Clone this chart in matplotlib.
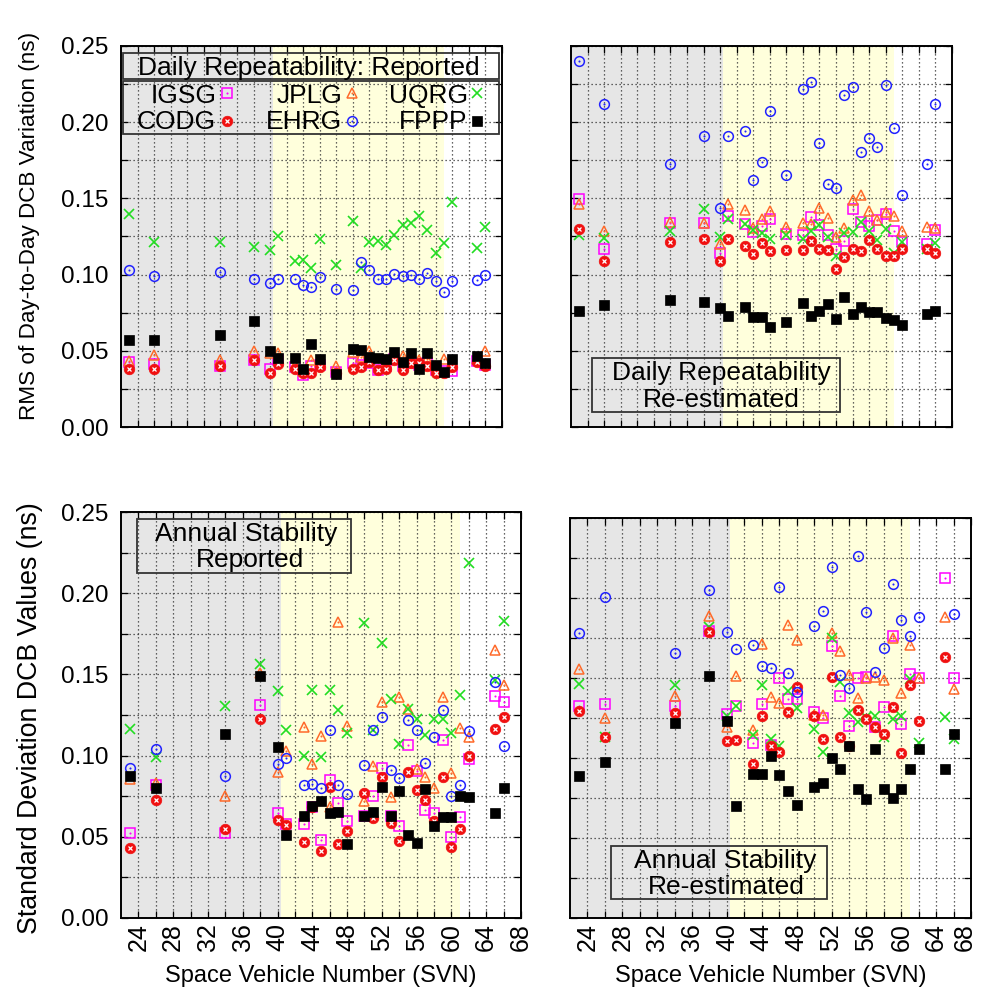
import numpy as np
import matplotlib
matplotlib.use('Agg')
import matplotlib.pyplot as plt
from matplotlib.patches import Rectangle
from matplotlib.transforms import ScaledTranslation

plt.rcParams['font.family'] = ['Liberation Sans', 'DejaVu Sans']

nan = np.nan

# ---------------- data ----------------
svn_daily = [23, 26, 34, 38, 40, 41, 43, 44, 45, 46, 48, 50, 51, 52, 53, 54, 55, 56, 57, 58, 59, 60, 61, 62, 65, 66]
svn_annual = [23, 26, 34, 38, 40, 41, 43, 44, 45, 46, 47, 48, 50, 51, 52, 53, 54, 55, 56, 57, 58, 59, 60, 61, 62, 65, 66]

# Daily repeatability, reported
dr_igsg = [0.0430, 0.0412, 0.0401, 0.0438, 0.0383, 0.0440, 0.0397, 0.0343, 0.0400, 0.0410, 0.0364, 0.0419, 0.0410, 0.0420, 0.0376, 0.0400, 0.0445, 0.0400, 0.0420, 0.0410, 0.0424, 0.0375, 0.0370, 0.0371, 0.0436, 0.0410]
dr_jplg = [0.0434, 0.0474, 0.0438, 0.0502, 0.0485, 0.0490, 0.0410, 0.0370, 0.0441, 0.0430, 0.0399, 0.0494, 0.0463, 0.0502, 0.0430, 0.0420, 0.0474, 0.0467, 0.0445, 0.0441, 0.0450, 0.0400, 0.0445, 0.0430, 0.0450, 0.0502]
dr_uqrg = [0.1400, 0.1214, 0.1212, 0.1183, 0.1162, 0.1251, 0.1092, 0.1096, 0.1046, 0.1236, 0.1061, 0.1352, 0.1046, 0.1216, 0.1223, 0.1197, 0.1258, 0.1323, 0.1336, 0.1384, 0.1290, 0.1140, 0.1210, 0.1474, 0.1175, 0.1310]
dr_codg = [0.0380, 0.0380, 0.0401, 0.0441, 0.0353, 0.0412, 0.0380, 0.0353, 0.0353, 0.0397, 0.0358, 0.0380, 0.0397, 0.0426, 0.0376, 0.0380, 0.0441, 0.0376, 0.0419, 0.0420, 0.0401, 0.0358, 0.0353, 0.0397, 0.0430, 0.0401]
dr_ehrg = [0.1031, 0.0993, 0.1015, 0.0969, 0.0943, 0.0972, 0.0972, 0.0932, 0.0921, 0.0985, 0.0904, 0.0902, 0.1083, 0.1033, 0.0969, 0.0974, 0.1004, 0.0989, 0.0996, 0.0974, 0.1009, 0.0959, 0.0884, 0.0959, 0.0965, 0.0998]
dr_fppp = [0.0574, 0.0574, 0.0607, 0.0699, 0.0502, 0.0456, 0.0456, 0.0382, 0.0548, 0.0448, 0.0347, 0.0515, 0.0509, 0.0461, 0.0456, 0.0448, 0.0493, 0.0428, 0.0489, 0.0382, 0.0489, 0.0410, 0.0362, 0.0448, 0.0469, 0.0421]

# Daily repeatability, re-estimated
de_igsg = [0.1497, 0.1168, 0.1339, 0.1339, 0.1142, 0.1387, 0.1332, 0.1280, 0.1317, 0.1365, 0.1266, 0.1262, 0.1378, 0.1328, 0.1258, 0.1170, 0.1223, 0.1432, 0.1343, 0.1317, 0.1356, 0.1397, 0.1288, 0.1214, 0.1201, 0.1295]
de_jplg = [0.1463, 0.1284, 0.1343, 0.1339, 0.1201, 0.1465, 0.1426, 0.1308, 0.1367, 0.1419, 0.1310, 0.1339, 0.1330, 0.1437, 0.1371, 0.1245, 0.1306, 0.1491, 0.1520, 0.1419, 0.1360, 0.1410, 0.1382, 0.1288, 0.1312, 0.1306]
de_uqrg = [0.1262, 0.1241, 0.1283, 0.1432, 0.1245, 0.1367, 0.1332, 0.1293, 0.1273, 0.1236, 0.1258, 0.1236, 0.1284, 0.1328, 0.1245, 0.1120, 0.1273, 0.1280, 0.1343, 0.1284, 0.1229, 0.1301, 0.1142, 0.1216, 0.1168, 0.1209]
de_codg = [0.1297, 0.1087, 0.1214, 0.1231, 0.1090, 0.1231, 0.1186, 0.1135, 0.1210, 0.1157, 0.1159, 0.1159, 0.1223, 0.1166, 0.1164, 0.1039, 0.1114, 0.1168, 0.1157, 0.1227, 0.1166, 0.1124, 0.1122, 0.1166, 0.1166, 0.1144]
de_ehrg = [0.2400, 0.2120, 0.1727, 0.1908, 0.1439, 0.1908, 0.1943, 0.1618, 0.1736, 0.2072, 0.1651, 0.2218, 0.2262, 0.1860, 0.1594, 0.1566, 0.2179, 0.2227, 0.1801, 0.1895, 0.1834, 0.2245, 0.1961, 0.1524, 0.1723, 0.2116]
de_fppp = [0.0764, 0.0801, 0.0836, 0.0823, 0.0782, 0.0729, 0.0788, 0.0725, 0.0725, 0.0659, 0.0690, 0.0817, 0.0731, 0.0764, 0.0810, 0.0712, 0.0856, 0.0745, 0.0790, 0.0753, 0.0758, 0.0718, 0.0705, 0.0672, 0.0745, 0.0764]

# Annual stability, reported
ar_igsg = [0.0524, 0.0818, 0.0520, 0.1312, 0.0643, 0.0578, 0.0578, 0.0680, 0.0480, 0.0849, 0.0705, 0.0598, 0.0627, 0.0751, 0.0921, 0.0630, 0.0565, 0.1065, 0.0907, 0.0664, 0.0648, 0.1096, 0.0495, 0.0619, 0.0977, 0.1369, 0.1332]
ar_jplg = [0.0853, 0.0828, 0.0750, 0.1510, 0.0901, 0.1030, 0.1174, 0.0948, 0.1120, 0.0682, 0.1825, 0.1180, 0.0722, 0.0935, 0.1328, 0.0742, 0.1359, 0.1290, 0.0920, 0.0870, 0.0800, 0.1359, 0.0895, 0.1168, 0.1116, 0.1648, 0.1437]
ar_uqrg = [0.1164, 0.0993, 0.1305, 0.1562, 0.1398, 0.1155, 0.0997, 0.1404, 0.0990, 0.1406, 0.1281, 0.1142, 0.1819, 0.1157, 0.1692, 0.1346, 0.1073, 0.1285, 0.1223, 0.1127, 0.1223, 0.1223, 0.1137, 0.1375, 0.2190, 0.1466, 0.1830]
ar_codg = [0.0428, 0.0726, 0.0545, 0.1226, 0.0600, 0.0571, 0.0469, 0.0680, 0.0414, 0.0804, 0.0456, 0.0537, 0.0772, 0.0616, 0.0870, 0.0587, 0.0475, 0.0900, 0.0785, 0.0728, 0.0597, 0.0870, 0.0438, 0.0550, 0.0995, 0.1161, 0.1240]
ar_ehrg = [0.0921, 0.1038, 0.0874, nan, 0.0948, 0.0987, 0.0817, 0.0826, 0.0801, 0.1160, 0.0818, 0.0763, 0.0943, 0.1157, 0.1240, 0.0913, 0.0861, 0.1221, 0.1157, 0.0954, 0.1112, 0.1279, 0.0751, 0.0818, 0.1154, 0.1456, 0.1057]
ar_fppp = [0.0874, 0.0798, 0.1131, 0.1490, 0.1055, 0.0510, 0.0625, 0.0690, 0.0722, 0.0643, 0.0650, 0.0456, 0.0627, 0.0653, 0.0808, 0.0628, 0.0783, 0.0510, 0.0463, 0.0794, 0.0567, 0.0623, 0.0623, 0.0751, 0.0747, 0.0648, 0.0798]

# Annual stability, re-estimated
ae_igsg = [0.1323, 0.1336, 0.1325, 0.1792, 0.1273, 0.1323, 0.1092, 0.1338, 0.1078, 0.1496, 0.1366, 0.1367, 0.1283, 0.1246, 0.1698, 0.1385, 0.1199, 0.1496, 0.1506, 0.1190, 0.1317, 0.1759, 0.1208, 0.1522, 0.1501, 0.2121, 0.1498]
ae_jplg = [0.1552, 0.1246, 0.1388, 0.1885, 0.1194, 0.1513, 0.1173, 0.1712, 0.1381, 0.1340, 0.1832, 0.1738, 0.1270, 0.1267, 0.1777, 0.1668, 0.1517, 0.1376, 0.1501, 0.1506, 0.1483, 0.1751, 0.1404, 0.1702, 0.1500, 0.1881, 0.1427]
ae_uqrg = [0.1463, 0.1131, 0.1454, 0.1815, 0.1260, 0.1323, 0.1142, 0.1452, 0.1117, 0.1073, 0.1419, 0.1308, 0.1177, 0.1036, 0.1746, 0.1475, 0.1282, 0.1221, 0.1256, 0.1262, 0.1131, 0.1242, 0.1262, 0.1492, 0.1095, 0.1254, 0.1115]
ae_codg = [0.1294, 0.1131, 0.1277, 0.1788, 0.1104, 0.1111, 0.0961, 0.1261, 0.1073, 0.1038, 0.1286, 0.1444, 0.1258, 0.1115, 0.1504, 0.1131, 0.1073, 0.1298, 0.1243, 0.1190, 0.1146, 0.1314, 0.1029, 0.1452, 0.1230, 0.1631, nan]
ae_ehrg = [0.1781, 0.2002, 0.1656, 0.2048, 0.1783, 0.1679, 0.1704, 0.1575, 0.1563, 0.2067, 0.1532, 0.1413, 0.1823, 0.1919, 0.2195, 0.1519, 0.1433, 0.2263, 0.1908, 0.1535, 0.1683, 0.2085, 0.1860, 0.1758, 0.1879, nan, 0.1898]
ae_fppp = [0.0886, 0.0975, 0.1219, 0.1513, 0.1231, 0.0700, 0.0898, 0.0898, 0.1011, 0.0892, 0.0793, 0.0706, 0.0815, 0.0844, 0.0998, 0.0931, 0.1073, 0.0804, 0.0740, 0.1054, 0.0802, 0.0751, 0.0802, 0.0931, 0.1056, 0.0931, 0.1150]

centers = ['IGSG', 'JPLG', 'UQRG', 'CODG', 'EHRG', 'FPPP']
gray_end = 40.4
yellow_end = 61.0

# ---------------- styles ----------------
C_MAG = '#ff00ff'
C_ORA = '#ff6a2a'
C_GRN = '#22dd22'
C_RED = '#f01010'
C_BLU = '#2222ff'
C_BLK = '#000000'

MS = 7.0


def draw_series(ax, x, y, name, trans=None):
    kw = {} if trans is None else {'transform': trans, 'clip_on': False}
    if name == 'IGSG':
        ax.plot(x, y, ls='none', marker='s', ms=MS, mfc='none', mec=C_MAG, mew=1.1, **kw)
        ax.plot(x, y, ls='none', marker='o', ms=1.5, mfc=C_MAG, mec=C_MAG, mew=0, **kw)
    elif name == 'JPLG':
        ax.plot(x, y, ls='none', marker='^', ms=MS, mfc='none', mec=C_ORA, mew=1.1, **kw)
        ax.plot(x, y, ls='none', marker='o', ms=1.5, mfc=C_ORA, mec=C_ORA, mew=0, **kw)
    elif name == 'UQRG':
        ax.plot(x, y, ls='none', marker='x', ms=MS, mec=C_GRN, mew=1.2, **kw)
    elif name == 'CODG':
        ax.plot(x, y, ls='none', marker='o', ms=MS + 0.6, mfc=C_RED, mec=C_RED, mew=0.5, **kw)
        ax.plot(x, y, ls='none', marker='x', ms=2.8, mec='white', mew=0.9, **kw)
    elif name == 'EHRG':
        ax.plot(x, y, ls='none', marker='o', ms=MS, mfc='none', mec=C_BLU, mew=1.1, **kw)
        ax.plot(x, y, ls='none', marker='o', ms=1.5, mfc=C_BLU, mec=C_BLU, mew=0, **kw)
    elif name == 'FPPP':
        ax.plot(x, y, ls='none', marker='s', ms=MS + 0.3, mfc=C_BLK, mec=C_BLK, mew=0.5, **kw)


W, H = 981, 998
fig = plt.figure(figsize=(W / 100, H / 100), dpi=100)


def px_axes(x0, x1, ytop, ybot):
    return fig.add_axes([x0 / W, (H - ybot) / H, (x1 - x0) / W, (ybot - ytop) / H])


ax_tl = px_axes(121, 502, 45.7, 427.3)
ax_tr = px_axes(571, 952, 45.7, 427.3)
ax_bl = px_axes(121, 521, 512.3, 917.7)
ax_br = px_axes(570, 971, 517.7, 917.7)

panels = [
    (ax_tl, svn_daily, [dr_igsg, dr_jplg, dr_uqrg, dr_codg, dr_ehrg, dr_fppp], True, False),
    (ax_tr, svn_daily, [de_igsg, de_jplg, de_uqrg, de_codg, de_ehrg, de_fppp], False, False),
    (ax_bl, svn_annual, [ar_igsg, ar_jplg, ar_uqrg, ar_codg, ar_ehrg, ar_fppp], True, True),
    (ax_br, svn_annual, [ae_igsg, ae_jplg, ae_uqrg, ae_codg, ae_ehrg, ae_fppp], False, True),
]

TICK_FS = 17.5
xt = list(range(24, 69, 2))
yt = [i * 0.025 for i in range(11)]

for ax, svn, series, show_y, show_x in panels:
    ax.axvspan(22, gray_end, color='#e6e6e6', zorder=0, lw=0)
    ax.axvspan(gray_end, yellow_end, color='#ffffdc', zorder=0, lw=0)
    ax.set_xticks(xt)
    ax.set_yticks(yt)
    ax.set_xlim(22, 68)
    ax.set_ylim(0, 0.25)
    ax.grid(True, color='#333333', ls=(0, (1, 2.2)), lw=0.9, zorder=1)
    ax.set_axisbelow(True)
    ax.tick_params(direction='in', length=5, width=0.9, top=True, right=True,
                   labelsize=TICK_FS)
    ax.tick_params(axis='y', pad=9)
    ax.tick_params(axis='x', pad=4, labelsize=18)
    for s in ax.spines.values():
        s.set_linewidth(1.4)
    if show_y:
        ax.set_yticklabels(['%.2f' % v if i % 2 == 0 else '' for i, v in enumerate(yt)])
    else:
        ax.set_yticklabels([])
    if show_x:
        ax.set_xticklabels([str(v) if v % 4 == 0 else '' for v in xt], rotation=90)
    else:
        ax.set_xticklabels([])
    for name, vals in zip(centers, series):
        draw_series(ax, svn, vals, name)

# keep the last tick label of the right-hand panel inside the figure
last_lab = ax_br.get_xticklabels()[-1]
last_lab.set_transform(last_lab.get_transform() +
                       ScaledTranslation(-6 / 100, 0, fig.dpi_scale_trans))

BOX_FS = 19
EDGE = '#333333'


def box(ax, x0, y0, x1, y1):
    ax.add_patch(Rectangle((x0, y0), x1 - x0, y1 - y0, transform=ax.transAxes,
                           fill=False, edgecolor=EDGE, lw=1.3, zorder=5, clip_on=False))


# legend in top-left panel
box(ax_tl, 0.005, 0.912, 0.992, 0.980)
ax_tl.text(0.494, 0.923, 'Daily Repeatability: Reported', transform=ax_tl.transAxes,
           ha='center', va='baseline', fontsize=BOX_FS, zorder=6)
box(ax_tl, 0.005, 0.768, 0.992, 0.908)
leg_rows = [['IGSG', 'JPLG', 'UQRG'], ['CODG', 'EHRG', 'FPPP']]
row_base = [0.851, 0.781]
row_mark = [0.875, 0.8035]
col_text = [0.250, 0.581, 0.910]
col_mark = [0.277, 0.607, 0.934]
for r, row in enumerate(leg_rows):
    for c, name in enumerate(row):
        ax_tl.text(col_text[c], row_base[r], name, transform=ax_tl.transAxes,
                   ha='right', va='baseline', fontsize=BOX_FS, zorder=6)
        draw_series(ax_tl, [col_mark[c]], [row_mark[r]], name, trans=ax_tl.transAxes)

# annotation boxes
box(ax_tr, 0.055, 0.040, 0.706, 0.182)
ax_tr.text(0.395, 0.124, 'Daily Repeatability', transform=ax_tr.transAxes,
           ha='center', va='baseline', fontsize=BOX_FS, zorder=6)
ax_tr.text(0.394, 0.054, 'Re-estimated', transform=ax_tr.transAxes,
           ha='center', va='baseline', fontsize=BOX_FS, zorder=6)

box(ax_bl, 0.040, 0.850, 0.575, 0.983)
ax_bl.text(0.313, 0.930, 'Annual Stability', transform=ax_bl.transAxes,
           ha='center', va='baseline', fontsize=BOX_FS, zorder=6)
ax_bl.text(0.322, 0.866, 'Reported', transform=ax_bl.transAxes,
           ha='center', va='baseline', fontsize=BOX_FS, zorder=6)

box(ax_br, 0.102, 0.047, 0.641, 0.179)
ax_br.text(0.386, 0.1235, 'Annual Stability', transform=ax_br.transAxes,
           ha='center', va='baseline', fontsize=BOX_FS, zorder=6)
ax_br.text(0.391, 0.059, 'Re-estimated', transform=ax_br.transAxes,
           ha='center', va='baseline', fontsize=BOX_FS, zorder=6)

# axis labels
fig.text(30 / W, (H - 226) / H, 'RMS of Day-to-Day DCB Variation (ns)', rotation=90,
         ha='center', va='center', fontsize=16.2)
fig.text(30 / W, (H - 718) / H, 'Standard Deviation DCB Values (ns)', rotation=90,
         ha='center', va='center', fontsize=19.3)
fig.text(321 / W, (H - 976) / H, 'Space Vehicle Number (SVN)', ha='center', va='center',
         fontsize=17)
fig.text(770.5 / W, (H - 976) / H, 'Space Vehicle Number (SVN)', ha='center', va='center',
         fontsize=17)

fig.savefig('out.png', dpi=100)
